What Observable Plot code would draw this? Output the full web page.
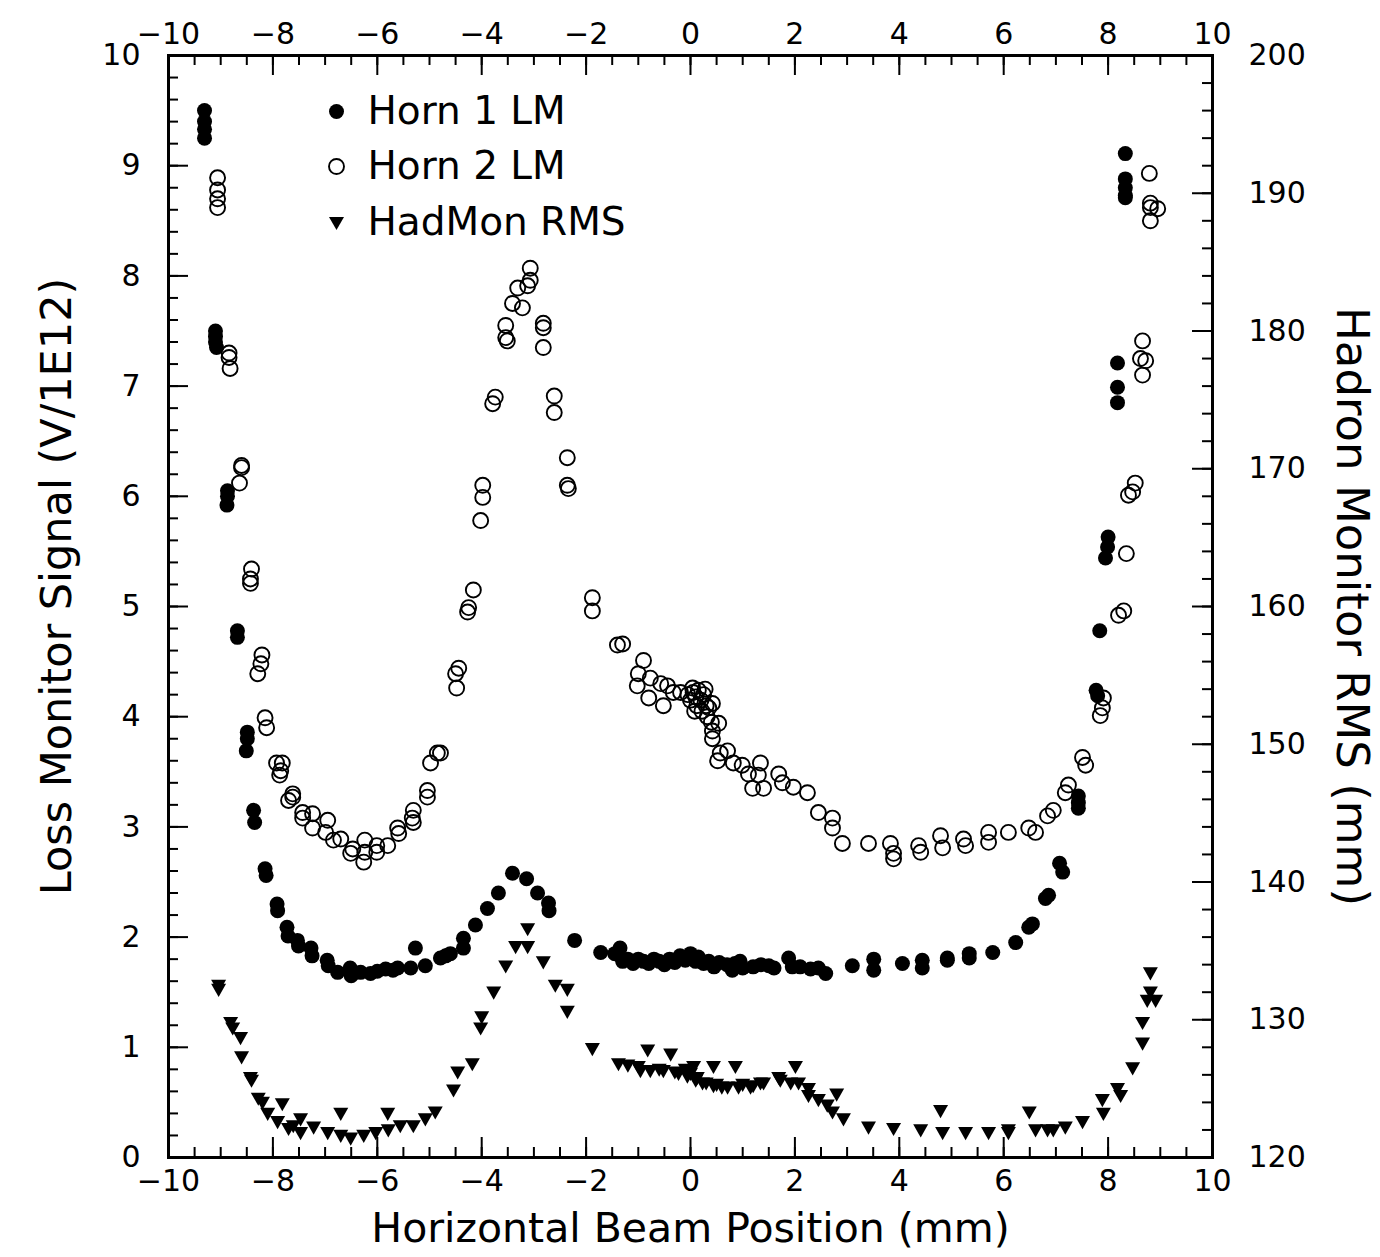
<!DOCTYPE html>
<html><head><meta charset="utf-8">
<script src="https://cdn.jsdelivr.net/npm/d3@7"></script>
<script src="https://cdn.jsdelivr.net/npm/@observablehq/plot@0.6"></script>
<style>body{margin:0;background:#fff} svg{display:block}</style>
</head><body><div id="chart"></div>
<script>
// ---- data ----
const horn1X = [-9.31,-9.31,-9.31,-9.31,-9.10,-9.10,-9.10,-9.08,-8.87,-8.87,-8.88,-8.68,-8.68,-8.49,-8.49,-8.51,-8.37,-8.35,-8.15,-8.13,-7.92,-7.91,-7.73,-7.71,-7.53,-7.51,-7.27,-7.25,-6.96,-6.94,-6.76,-6.52,-6.50,-6.32,-6.13,-6.00,-5.84,-5.70,-5.61,-5.36,-5.27,-5.08,-4.79,-4.69,-4.60,-4.35,-4.35,-4.12,-3.89,-3.68,-3.41,-3.14,-2.93,-2.72,-2.71,-2.22,-1.72,
-1.45,-1.35,-1.30,-1.20,-1.10,-1.00,-0.90,-0.80,-0.70,-0.60,-0.50,-0.40,-0.30,-0.20,-0.10,0.00,0.05,0.10,0.15,0.25,0.35,0.45,0.55,0.70,0.80,0.85,0.95,1.00,1.20,1.35,1.50,1.60,1.88,1.95,2.10,2.30,2.45,2.59,
3.10,3.51,3.51,4.06,4.44,4.44,4.92,4.92,5.34,5.34,5.79,6.23,6.48,6.55,6.80,6.86,7.07,7.13,7.43,7.43,7.43,7.77,7.80,7.84,7.95,7.99,8.00,8.18,8.18,8.18,8.33,8.33,8.33,8.33,8.33];
const horn1Y = [9.50,9.40,9.33,9.25,7.50,7.45,7.40,7.35,6.05,6.00,5.92,4.78,4.72,3.86,3.80,3.69,3.15,3.04,2.62,2.56,2.30,2.24,2.09,2.01,1.97,1.92,1.90,1.83,1.79,1.74,1.68,1.72,1.65,1.68,1.67,1.69,1.71,1.70,1.72,1.72,1.90,1.74,1.81,1.83,1.85,1.90,1.99,2.11,2.26,2.40,2.58,2.53,2.40,2.31,2.24,1.97,1.86,
1.85,1.90,1.78,1.80,1.76,1.80,1.78,1.76,1.80,1.78,1.75,1.80,1.77,1.83,1.79,1.85,1.80,1.78,1.82,1.76,1.78,1.73,1.77,1.75,1.70,1.76,1.78,1.72,1.73,1.75,1.74,1.72,1.81,1.73,1.73,1.71,1.72,1.67,
1.74,1.80,1.70,1.76,1.79,1.72,1.79,1.81,1.85,1.81,1.86,1.95,2.09,2.12,2.35,2.38,2.67,2.59,3.28,3.22,3.17,4.24,4.19,4.78,5.44,5.54,5.63,7.21,6.99,6.85,9.11,8.88,8.80,8.73,8.71];

const horn2X = [-9.06,-9.06,-9.06,-9.06,-8.84,-8.84,-8.82,-8.60,-8.60,-8.64,-8.41,-8.43,-8.43,-8.21,-8.23,-8.29,-8.15,-8.12,-7.93,-7.82,-7.85,-7.87,-7.62,-7.70,-7.62,-7.43,-7.24,-7.43,-6.95,
-7.24,-6.99,-6.84,-6.70,-6.47,-6.51,-6.24,-6.26,-6.24,-6.01,-6.01,-5.80,-5.61,-5.59,-5.31,-5.31,-5.33,-5.04,-5.04,-4.98,-4.85,-4.79,-4.50,-4.44,-4.48,
-4.16,-4.25,-4.27,-3.98,-3.98,-4.02,
-3.07,-3.07,-3.12,-3.31,-3.41,-3.22,-3.54,-3.54,-3.51,-2.82,-2.82,-2.82,-3.74,-3.79,-2.61,-2.61,-2.36,-2.36,-2.34,
-1.88,-1.88,
-1.40,-1.30,-0.90,-1.00,-1.02,-0.77,-0.80,-0.57,-0.52,-0.44,-0.33,-0.19,0.04,
-0.05,0.00,0.05,0.10,0.12,0.15,0.20,0.22,0.25,0.30,0.32,0.35,0.40,0.42,0.28,0.08,
0.42,0.42,0.54,
0.57,0.71,0.52,0.82,0.99,1.11,1.34,1.30,1.19,1.40,1.69,1.76,1.97,2.24,2.45,2.72,2.72,2.91,3.41,3.83,3.89,3.89,4.37,
4.41,4.79,4.83,5.23,5.27,5.71,5.71,6.09,6.48,6.61,6.84,6.95,7.18,7.24,7.51,7.57,7.91,7.89,7.85,8.20,8.30,8.35,8.39,8.47,8.52,
8.66,8.62,8.72,8.66,8.79,8.81,8.95,8.81,8.81];
const horn2Y = [8.89,8.78,8.70,8.62,7.30,7.26,7.16,6.28,6.26,6.12,5.34,5.25,5.21,4.56,4.48,4.39,3.99,3.90,3.58,3.58,3.51,3.47,3.30,3.24,3.27,3.13,3.12,3.08,3.06,
2.99,2.95,2.88,2.89,2.80,2.76,2.88,2.68,2.77,2.77,2.83,2.83,2.99,2.94,3.04,3.15,3.08,3.33,3.27,3.58,3.67,3.67,4.39,4.44,4.26,
5.15,4.99,4.95,6.10,5.99,5.78,
8.07,7.96,7.91,7.89,7.75,7.71,7.55,7.44,7.41,7.57,7.53,7.35,6.90,6.84,6.91,6.76,6.35,6.10,6.07,
5.08,4.96,
4.65,4.66,4.51,4.39,4.28,4.35,4.17,4.30,4.10,4.28,4.22,4.22,4.26,
4.20,4.15,4.22,4.18,4.10,4.24,4.15,4.05,4.20,4.10,4.00,4.08,3.95,4.12,4.25,4.05,
3.87,3.80,3.94,
3.67,3.69,3.60,3.58,3.56,3.48,3.58,3.47,3.35,3.35,3.48,3.40,3.36,3.31,3.13,3.08,2.99,2.85,2.85,2.85,2.76,2.71,2.83,
2.77,2.92,2.81,2.89,2.83,2.95,2.86,2.95,2.99,2.95,3.10,3.15,3.31,3.38,3.63,3.56,4.17,4.08,4.01,4.92,4.96,5.48,6.01,6.04,6.12,
7.41,7.25,7.23,7.10,8.93,8.62,8.61,8.50,8.66];

// HadMon RMS in mm (right axis)
const hadX = [-9.04,-9.04,-8.81,-8.77,-8.62,-8.60,-8.43,-8.41,-8.28,-8.20,-8.10,-7.91,-7.82,-7.70,-7.61,-7.47,-7.47,-7.22,-6.95,-6.70,-6.70,-6.51,-6.26,-6.03,-5.80,-5.79,-5.56,-5.31,-5.08,-4.89,-4.54,-4.46,-4.18,-4.02,-4.00,-3.77,-3.54,-3.35,-3.12,-3.12,-2.82,-2.59,-2.36,-2.36,-1.88,
-1.38,-1.20,-1.00,-0.96,-0.82,-0.77,-0.60,-0.52,-0.38,-0.30,-0.23,-0.10,-0.06,0.00,0.06,0.10,0.13,0.23,0.30,0.44,0.44,0.50,0.60,0.71,0.86,0.92,1.00,1.15,1.20,1.34,1.69,
1.40,1.72,1.92,2.01,2.07,2.26,2.26,2.45,2.62,2.72,2.80,2.93,3.41,3.89,4.41,4.79,4.83,5.27,5.71,6.09,6.09,6.49,6.61,6.84,6.95,7.18,7.51,7.89,7.91,8.18,8.24,8.47,8.66,8.66,8.81,8.81,8.91,8.75];
const hadRMS = [132.5,132.2,129.8,129.4,128.7,127.3,125.8,125.6,124.3,124.0,123.2,122.6,123.9,122.1,122.3,122.8,121.8,122.2,121.8,123.2,121.6,121.4,121.6,121.8,123.2,122.0,122.3,122.3,122.8,123.3,124.9,126.2,126.8,129.4,130.2,132.0,133.9,135.3,135.3,136.6,134.2,132.5,132.2,130.6,127.9,
126.8,126.7,126.6,126.3,127.8,126.3,126.4,126.3,127.5,126.2,126.1,126.4,125.9,126.1,126.6,125.6,125.8,125.4,125.4,126.6,125.2,125.3,125.1,125.1,126.6,125.1,125.3,125.1,125.2,125.4,125.8,
125.4,125.6,125.4,126.6,125.4,125.0,124.5,124.2,123.8,123.3,124.6,122.8,122.2,122.1,122.0,123.4,121.8,121.8,121.8,122.0,121.8,123.3,122.0,122.0,122.0,122.2,122.6,124.2,123.2,125.0,124.5,126.5,129.8,128.3,133.4,132.0,131.4,131.4];

const xTickValues = [-10,-8,-6,-4,-2,0,2,4,6,8,10];
const yLeftTickValues = [0,1,2,3,4,5,6,7,8,9,10];
const yRightTickValues = [120,130,140,150,160,170,180,190,200];
const legendLabels = ["Horn 1 LM","Horn 2 LM","HadMon RMS"];
const xTitle = "Horizontal Beam Position (mm)";
const yLeftTitle = "Loss Monitor Signal (V/1E12)";
const yRightTitle = "Hadron Monitor RMS (mm)";

// ---- layout ----
const W = 1380, H = 1257, mL = 168, mR = 168, mT = 55, mB = 100;
const pw = W - mL - mR, ph = H - mT - mB;
const rmsToLeft = v => (v - 120) / 8;
const fmt = d => d < 0 ? "\u2212" + (-d) : String(d);
const minorX = d3.range(-10, 10.001, 0.5);
const minorY = d3.range(0, 10.001, 0.2);
const minorR = d3.range(120, 200.001, 2).map(rmsToLeft);
const triDown = {draw(ctx, size) {
  const r = Math.sqrt(size / Math.PI);
  ctx.moveTo(-r, -0.75 * r); ctx.lineTo(r, -0.75 * r); ctx.lineTo(0, r); ctx.closePath();
}};
const MAJ = 20, MIN = 10, TW = 2, R = 7.5;

const chart = Plot.plot({
  width: W, height: H,
  marginLeft: mL, marginRight: mR, marginTop: mT, marginBottom: mB,
  style: {fontFamily: "DejaVu Sans", fontSize: "30px", background: "white", color: "black"},
  x: {domain: [-10, 10]},
  y: {domain: [0, 10]},
  marks: [
    Plot.axisX(xTickValues, {anchor: "bottom", tickSize: 0, tickPadding: 12, tickFormat: fmt, label: null, fontSize: 30}),
    Plot.axisX(xTickValues, {anchor: "top", tickSize: 0, tickPadding: 12, tickFormat: fmt, label: null, fontSize: 30}),
    Plot.axisY(yLeftTickValues, {anchor: "left", tickSize: 0, tickPadding: 28, tickFormat: fmt, label: null, fontSize: 30}),
    Plot.axisY(yRightTickValues.map(rmsToLeft), {anchor: "right", tickSize: 0, tickPadding: 36, tickFormat: d => String(Math.round(120 + 8 * d)), label: null, fontSize: 30}),
    // inward ticks
    Plot.tickX(minorX, {x: d => d, insetTop: ph - MIN, strokeWidth: TW}),
    Plot.tickX(xTickValues, {x: d => d, insetTop: ph - MAJ, strokeWidth: TW}),
    Plot.tickX(minorX, {x: d => d, insetBottom: ph - MIN, strokeWidth: TW}),
    Plot.tickX(xTickValues, {x: d => d, insetBottom: ph - MAJ, strokeWidth: TW}),
    Plot.tickY(minorY, {y: d => d, insetRight: pw - MIN, strokeWidth: TW}),
    Plot.tickY(yLeftTickValues, {y: d => d, insetRight: pw - MAJ, strokeWidth: TW}),
    Plot.tickY(minorR, {y: d => d, insetLeft: pw - MIN, strokeWidth: TW}),
    Plot.tickY(yRightTickValues.map(rmsToLeft), {y: d => d, insetLeft: pw - MAJ, strokeWidth: TW}),
    Plot.frame({strokeWidth: 3}),
    // data
    Plot.dot(hadRMS, {x: hadX, y: hadRMS.map(rmsToLeft), r: R, symbol: triDown, fill: "black"}),
    Plot.dot(horn1Y, {x: horn1X, y: horn1Y, r: R, fill: "black"}),
    Plot.dot(horn2Y, {x: horn2X, y: horn2Y, r: R, fill: "none", stroke: "black", strokeWidth: 1.9}),
    // legend
    Plot.dot([0], {frameAnchor: "top-left", dx: 168, dy: 56, r: R, fill: "black"}),
    Plot.dot([0], {frameAnchor: "top-left", dx: 168, dy: 111, r: R, fill: "none", stroke: "black", strokeWidth: 1.9}),
    Plot.dot([0], {frameAnchor: "top-left", dx: 168, dy: 167, r: R, symbol: triDown, fill: "black"}),
    Plot.text([legendLabels[0]], {text: d => d, frameAnchor: "top-left", dx: 199, dy: 56, textAnchor: "start", lineAnchor: "middle", fontSize: 39}),
    Plot.text([legendLabels[1]], {text: d => d, frameAnchor: "top-left", dx: 199, dy: 111, textAnchor: "start", lineAnchor: "middle", fontSize: 39}),
    Plot.text([legendLabels[2]], {text: d => d, frameAnchor: "top-left", dx: 199, dy: 167, textAnchor: "start", lineAnchor: "middle", fontSize: 39}),
    // titles
    Plot.text([xTitle], {text: d => d, frameAnchor: "bottom", dy: 71, textAnchor: "middle", lineAnchor: "middle", fontSize: 41}),
    Plot.text([yLeftTitle], {text: d => d, frameAnchor: "left", dx: -111, dy: -20, rotate: -90, textAnchor: "middle", lineAnchor: "middle", fontSize: 43}),
    Plot.text([yRightTitle], {text: d => d, frameAnchor: "right", dx: 139, rotate: 90, textAnchor: "middle", lineAnchor: "middle", fontSize: 45})
  ]
});
document.getElementById("chart").appendChild(chart);
</script>
</body></html>
